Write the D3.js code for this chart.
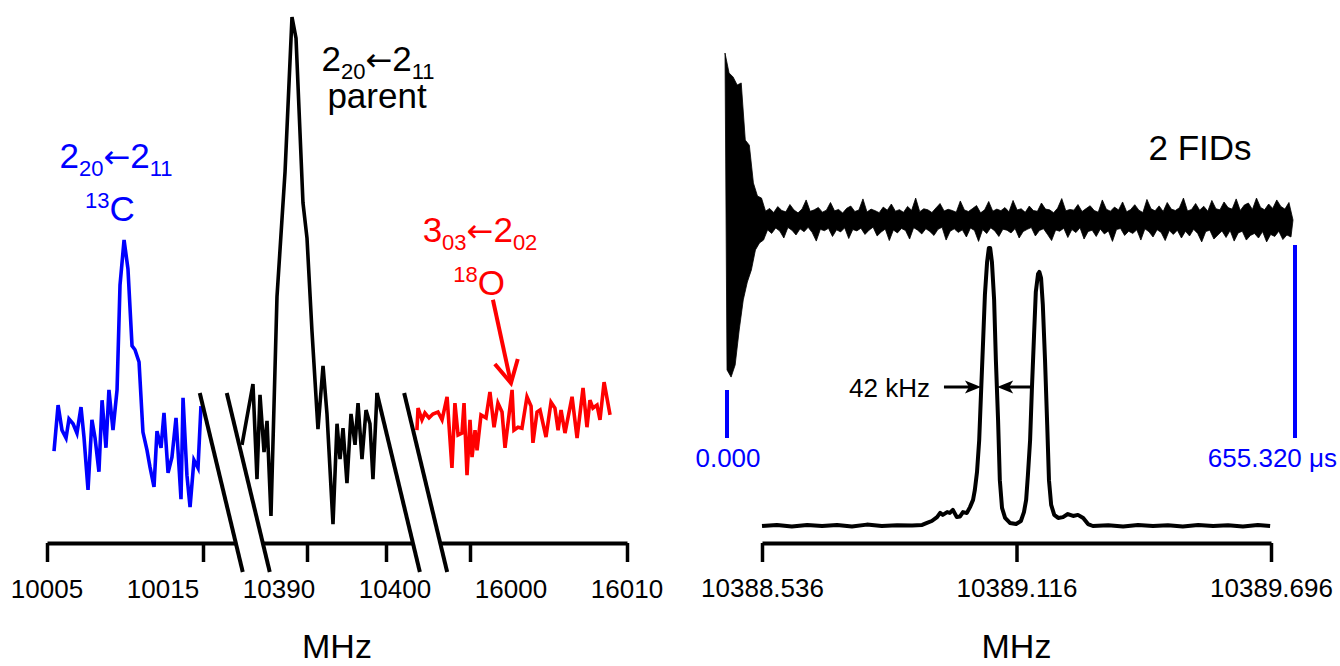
<!DOCTYPE html>
<html>
<head>
<meta charset="utf-8">
<script src="https://cdn.jsdelivr.net/npm/d3@7"></script>
<style>
  body { margin: 0; background: #fff; }
  svg text { font-family: "Liberation Sans", Arial, sans-serif; }
</style>
</head>
<body>
<div id="chart"></div>
<script>
// ---- left panel: three pieces of a broken frequency axis (MHz) ----
let leftSegments = [[10005, 10015], [10390, 10400], [16000, 16010]];
let leftTickValues = [10005, 10015, 10390, 10400, 16000, 16010];
let leftTickLabels = ['10005', '10015', '10390', '10400', '16000', '16010'];
// where the break marks cut the axis: [end of left piece, start of right piece]
let leftBreaks = [[10017.1, 10384.4], [10403.4, 15998.1]];

// 13C isotopologue, 2(20)<-2(11)
let c13Freq = [10005.45, 10005.71, 10005.96, 10006.22, 10006.41, 10006.67, 10006.92, 10007.18, 10007.37, 10007.63,
    10007.88, 10008.08, 10008.33, 10008.53, 10008.78, 10008.97, 10009.23, 10009.49, 10009.68, 10009.94,
    10010.19, 10010.45, 10010.64, 10010.90, 10011.15, 10011.41, 10011.60, 10011.86, 10012.05, 10012.31,
    10012.50, 10012.76, 10013.01, 10013.27, 10013.59, 10013.72, 10013.97, 10014.17, 10014.42, 10014.68, 10014.87];
let c13Int = [12.0, 21.4, 16.3, 14.7, 18.6, 17.6, 15.7, 21.0, 14.9, 4.1,
    18.4, 14.7, 7.8, 22.4, 12.7, 24.5, 16.3, 24.5, 45.9, 55.1,
    49.2, 33.5, 32.7, 30.2, 15.9, 12.2, 8.8, 4.7, 16.1, 12.7,
    19.8, 7.6, 10.8, 18.8, 2.2, 22.9, 7.1, 0.6, 10.2, 8.6, 21.2];

// parent, 2(20)<-2(11)
let parentFreq = [10381.77, 10383.16, 10383.67, 10384.05, 10384.56, 10384.94, 10385.44, 10386.20, 10387.22, 10388.10,
    10388.61, 10389.49, 10390.00, 10390.63, 10391.39, 10392.03, 10392.53, 10393.29, 10393.80, 10394.18,
    10394.56, 10395.06, 10395.57, 10396.08, 10396.46, 10396.96, 10397.47, 10397.97, 10398.35, 10398.86];
let parentInt = [13.3, 25.7, 6.3, 23.5, 11.8, 18.2, -1.2, 43.5, 69.0, 100.6,
    96.3, 62.7, 55.5, 36.5, 16.5, 29.4, 19.6, -2.9, 17.6, 10.4,
    16.7, 5.5, 19.6, 13.3, 21.8, 10.4, 20.4, 17.6, 6.3, 23.9];

// 18O isotopologue, 3(03)<-2(02)
let o18Freq = [15996.62, 15996.69, 15996.94, 15997.13, 15997.39, 15997.64, 15997.96, 15998.22, 15998.54, 15998.85,
    15999.04, 15999.24, 15999.49, 15999.62, 15999.81, 16000.00, 16000.13, 16000.32, 16000.45, 16000.70,
    16001.02, 16001.27, 16001.53, 16001.78, 16002.04, 16002.23, 16002.68, 16002.80, 16003.06, 16003.31,
    16003.63, 16003.89, 16004.01, 16004.27, 16004.46, 16004.84, 16005.16, 16005.41, 16005.61, 16005.80,
    16006.05, 16006.50, 16006.82, 16007.20, 16007.45, 16007.64, 16007.83, 16008.09, 16008.28, 16008.54, 16008.92];
let o18Int = [16.3, 20.8, 18.4, 19.8, 18.8, 19.6, 20.0, 18.4, 23.1, 8.6,
    21.8, 15.3, 15.7, 21.8, 7.1, 18.4, 10.8, 16.3, 12.2, 19.4,
    18.8, 24.1, 16.9, 21.8, 20.0, 12.7, 24.5, 16.3, 16.9, 16.7,
    23.1, 21.2, 13.7, 20.0, 20.4, 14.9, 22.0, 20.8, 16.3, 20.4,
    15.7, 23.1, 14.7, 24.9, 16.9, 22.4, 20.8, 21.4, 18.4, 26.1, 19.4];
// arrow pointing at the 18O line: [freq, intensity] tail and tip
let o18Arrow = [[16001.46, 42.9], [16002.61, 25.9]];

// ---- right panel: high resolution spectrum of the parent line ----
let rightTicks = [10388.536, 10389.116, 10389.696];
let specFreq = [10388.536, 10388.570, 10388.604, 10388.639, 10388.673, 10388.707, 10388.741, 10388.775, 10388.809, 10388.844,
    10388.878, 10388.901, 10388.912, 10388.923, 10388.935, 10388.942, 10388.948, 10388.958, 10388.964, 10388.971,
    10388.980, 10388.987, 10388.994, 10389.003, 10389.010, 10389.017, 10389.021, 10389.026, 10389.031, 10389.035,
    10389.040, 10389.044, 10389.049, 10389.053, 10389.056, 10389.060, 10389.065, 10389.069, 10389.074, 10389.078,
    10389.083, 10389.090, 10389.101, 10389.115, 10389.126, 10389.133, 10389.138, 10389.142, 10389.147, 10389.151,
    10389.156, 10389.160, 10389.165, 10389.168, 10389.172, 10389.176, 10389.181, 10389.186, 10389.190, 10389.195,
    10389.202, 10389.211, 10389.222, 10389.233, 10389.245, 10389.256, 10389.268, 10389.279, 10389.290, 10389.325,
    10389.359, 10389.393, 10389.427, 10389.461, 10389.495, 10389.530, 10389.564, 10389.598, 10389.632, 10389.666, 10389.694];
let specInt = [0, 0.4, -0.2, 0.4, 0, 0.4, -0.2, 0.5, 0, 0.3,
    0.2, 0.4, 1.1, 1.8, 3.2, 4.7, 4.0, 5.0, 4.7, 5.8,
    3.2, 3.4, 5.0, 4.7, 6.8, 9.4, 12.9, 19.4, 30.9, 47.1,
    66.9, 83.1, 95.0, 100, 100, 95.0, 81.3, 59.7, 38.1, 16.5,
    6.5, 2.9, 1.1, 0.7, 1.8, 5.0, 9.4, 18.3, 30.9, 48.9,
    68.7, 84.2, 90.6, 91.4, 89.2, 79.5, 59.7, 36.3, 16.5, 7.6,
    4.0, 2.9, 3.2, 4.3, 3.6, 4.0, 2.9, 0.7, 0, 0.3,
    -0.2, 0.4, 0, 0.3, -0.2, 0.4, 0, 0.3, -0.2, 0.4, 0];
let fwhmEdges = [10389.035, 10389.072];   // half height of the strong line
let fwhmLabel = '42 kHz';

// free induction decay: positive and negative swings (arb. units), 655.32 us long
let fidLength = 655.32;
let fidUpper = [98.2, 86.5, 84.1, 79.4, 80.6, 47, 44, 21.8, 14.1, 12.9,
    5.2, 6.8, 4.4, 7.9, 5.6, 4.8, 9.1, 5.9, 4.2, 6.5, 11.8, 5.1, 6.0, 7.4, 4.6, 5.8, 10.3, 5.4, 6.2, 4.1,
    6.9, 8.2, 5.0, 5.9, 12.4, 4.7, 6.4, 5.5, 4.3, 7.6, 5.8, 9.4, 5.2, 6.1, 4.5, 8.0, 5.7, 12.9, 4.9, 6.6,
    6.0, 4.4, 7.1, 9.7, 5.3, 6.3, 5.6, 4.6, 11.2, 5.9, 5.0, 6.7, 8.5, 4.2, 6.0, 10.9, 5.2, 6.4, 5.5, 7.3,
    4.8, 11.5, 5.9, 6.6, 4.5, 8.2, 5.6, 5.1, 10.0, 6.4, 6.0, 4.3, 7.0, 12.6, 5.4, 6.2, 5.8, 9.1, 5.0, 6.7,
    8.4, 5.6, 4.6, 11.8, 6.3, 5.2, 7.6, 5.9, 10.6, 4.8, 6.2, 9.0, 5.8, 4.4, 12.1, 6.6, 5.4, 8.3, 5.0, 10.3,
    6.4, 5.6, 7.2, 12.9, 5.3, 6.2, 9.7, 5.8, 8.1, 5.2, 11.5, 6.6, 6.0, 10.6, 7.3, 6.4, 12.4, 5.6, 8.8, 10.0,
    6.2, 12.9, 7.4, 6.0, 9.4, 6.8, 11.8, 8.0, 6.4, 10.3, 0];
let fidLower = [-88.2, -92.4, -85.3, -64.7, -47, -36.5, -29.4, -17.6, -13.5, -11.8,
    -5.8, -7.9, -4.7, -6.5, -10.6, -4.4, -6.0, -8.8, -5.2, -6.9, -4.3, -7.4, -12.4, -5.5, -6.3, -4.9, -9.7, -5.8, -7.0, -4.6,
    -10.9, -5.6, -6.4, -4.8, -8.5, -6.0, -4.2, -9.4, -7.1, -5.3, -12.1, -5.9, -7.6, -5.0, -6.2, -11.2, -4.5, -6.0, -8.2, -5.1,
    -6.8, -9.1, -5.5, -4.3, -11.8, -6.6, -5.2, -7.3, -5.8, -10.0, -4.7, -6.2, -12.6, -5.6, -8.0, -4.6, -6.4, -9.7, -5.4, -6.0,
    -7.6, -5.0, -10.6, -6.8, -5.5, -4.4, -9.4, -6.2, -5.1, -8.5, -12.1, -5.9, -6.6, -4.8, -10.3, -5.6, -7.4, -4.5, -11.2, -6.8,
    -6.0, -9.7, -5.3, -8.2, -6.4, -12.6, -5.6, -5.0, -9.1, -6.6, -7.9, -5.8, -11.8, -5.2, -6.9, -10.0, -5.7, -7.3, -12.1, -6.2,
    -8.5, -6.0, -10.6, -6.6, -9.4, -5.5, -7.9, -12.9, -6.8, -6.0, -11.2, -8.8, -6.4, -10.3, -6.2, -12.4, -7.6, -6.6, -11.8, -9.1,
    -7.9, -10.6, -6.8, -12.9, -8.5, -9.7, -6.6, -11.5, -8.8, -10.0, 0];
let fidStep = fidLength / (fidUpper.length - 1);

// ---------------------------------------------------------------
let width = 1340, height = 666;
let axisY = 543;
let blue = '#0000ff', red = '#ff0000';

let svg = d3.select('#chart').append('svg')
    .attr('width', width)
    .attr('height', height);

// rich label: parts = [text, size, dy, font]
function richText(x, y, parts, color) {
    let t = svg.append('text')
        .attr('x', x).attr('y', y)
        .attr('text-anchor', 'middle')
        .attr('fill', color);
    parts.forEach(p => {
        let s = t.append('tspan').attr('font-size', p[1]).attr('dy', p[2]).text(p[0]);
        if (p[3]) s.attr('font-family', p[3]);
    });
    return t;
}
function transition(a, b, c, d, color, x, y) {
    // big / sub / arrow / big / sub
    return richText(x, y, [
        [a, 35, 0], [b, 22, 8], ['\u2190', 32, -8, '"DejaVu Sans"'], [c, 35, 0], [d, 22, 8]
    ], color);
}

// ---- left panel ----
let segRanges = [[47, 203], [307, 386], [470, 627]];
let segScales = leftSegments.map((dom, i) => d3.scaleLinear().domain(dom).range(segRanges[i]));

function segIndex(f) {
    if (f < 10200) return 0;
    if (f < 13000) return 1;
    return 2;
}
function xLeft(f) {
    return segScales[segIndex(f)](f);
}
let yLeft = d3.scaleLinear().domain([0, 100]).range([510, 20]);

let leftSeries = [
    {freq: c13Freq, val: c13Int, color: blue},
    {freq: parentFreq, val: parentInt, color: 'black'},
    {freq: o18Freq, val: o18Int, color: red}
];

let lineLeft = d3.line()
    .x(d => xLeft(d[0]))
    .y(d => yLeft(d[1]));

leftSeries.forEach(s => {
    svg.append('path')
        .datum(d3.zip(s.freq, s.val))
        .attr('d', lineLeft)
        .attr('fill', 'none')
        .attr('stroke', s.color)
        .attr('stroke-width', 3.6);
});

// axis pieces
leftSegments.forEach((dom, i) => {
    let lo = i === 0 ? dom[0] : leftBreaks[i - 1][1];
    let hi = i === leftSegments.length - 1 ? dom[1] : leftBreaks[i][0];
    let s = segScales[i].copy().domain([lo, hi]).range([segScales[i](lo), segScales[i](hi)]);
    let ticks = leftTickValues.filter(v => v >= lo && v <= hi);
    let g = svg.append('g')
        .attr('transform', `translate(0,${axisY})`)
        .call(d3.axisBottom(s).tickValues(ticks).tickSize(19).tickSizeOuter(0).tickFormat(''));
    g.select('.domain').attr('stroke-width', 4);
    g.selectAll('.tick line').attr('stroke-width', 3.5);
});

// break marks
leftBreaks.forEach((pair, i) => {
    pair.forEach((f, j) => {
        let x = segScales[i + j](f);
        svg.append('line')
            .attr('x1', x - 36).attr('y1', axisY - 150)
            .attr('x2', x + 7).attr('y2', axisY + 29)
            .attr('stroke', 'black')
            .attr('stroke-width', 4);
    });
});

// tick labels are spread evenly under the broken axis
let labelX = d3.scalePoint()
    .domain(leftTickLabels)
    .range([segScales[0](leftTickValues[0]), segScales[2](leftTickValues[5])]);

svg.selectAll('.left-tick-label')
    .data(leftTickLabels)
    .join('text')
    .attr('class', 'left-tick-label')
    .attr('x', d => labelX(d))
    .attr('y', 598)
    .attr('text-anchor', 'middle')
    .attr('font-size', 26)
    .text(d => d);

svg.append('text')
    .attr('x', (segRanges[0][0] + segRanges[2][1]) / 2)
    .attr('y', 658)
    .attr('text-anchor', 'middle')
    .attr('font-size', 34)
    .text('MHz');

// line labels
transition('2', '20', '2', '11', 'black', 378, 71);
richText(377, 108, [['parent', 35, 0]], 'black');
transition('2', '20', '2', '11', blue, 116, 168);
richText(110, 221, [['13', 22, -13], ['C', 35, 13]], blue);
transition('3', '03', '2', '02', red, 480, 242);
richText(479, 295, [['18', 22, -13], ['O', 35, 13]], red);

// red arrow to the 18O line
let aTail = [xLeft(o18Arrow[0][0]), yLeft(o18Arrow[0][1])];
let aTip = [xLeft(o18Arrow[1][0]), yLeft(o18Arrow[1][1])];
let ang = Math.atan2(aTail[1] - aTip[1], aTail[0] - aTip[0]);
let wing = 25, spread = 28 * Math.PI / 180;
svg.append('line')
    .attr('x1', aTail[0]).attr('y1', aTail[1])
    .attr('x2', aTip[0]).attr('y2', aTip[1])
    .attr('stroke', red).attr('stroke-width', 4);
svg.append('path')
    .attr('d', d3.line()([
        [aTip[0] + wing * Math.cos(ang - spread), aTip[1] + wing * Math.sin(ang - spread)],
        aTip,
        [aTip[0] + wing * Math.cos(ang + spread), aTip[1] + wing * Math.sin(ang + spread)]
    ]))
    .attr('fill', 'none')
    .attr('stroke', red)
    .attr('stroke-width', 4);

// ---- right panel ----
let xRight = d3.scaleLinear()
    .domain([rightTicks[0], rightTicks[rightTicks.length - 1]])
    .range([762, 1271]);
let yRight = d3.scaleLinear().domain([0, 100]).range([526, 248]);

let gR = svg.append('g')
    .attr('transform', `translate(0,${axisY})`)
    .call(d3.axisBottom(xRight)
        .tickValues(rightTicks)
        .tickSize(19)
        .tickSizeOuter(0)
        .tickPadding(17)
        .tickFormat(d3.format('.3f')));
gR.select('.domain').attr('stroke-width', 4);
gR.selectAll('.tick line').attr('stroke-width', 3.5);
gR.selectAll('.tick text')
    .attr('font-size', 26)
    .attr('font-family', '"Liberation Sans", Arial, sans-serif')
    .attr('fill', 'black');

svg.append('text')
    .attr('x', (xRight.range()[0] + xRight.range()[1]) / 2)
    .attr('y', 658)
    .attr('text-anchor', 'middle')
    .attr('font-size', 34)
    .text('MHz');

svg.append('path')
    .datum(d3.zip(specFreq, specInt))
    .attr('d', d3.line().x(d => xRight(d[0])).y(d => yRight(d[1])))
    .attr('fill', 'none')
    .attr('stroke', 'black')
    .attr('stroke-width', 4)
    .attr('stroke-linejoin', 'round');

// FID: band between positive and negative swings, the two edges offset by half a sample
let fidX = d3.scaleLinear().domain([0, fidLength]).range([725, 1293]);
let fidY = d3.scaleLinear().domain([-100, 100]).range([390, 50]);

svg.append('path')
    .datum(d3.range(fidUpper.length))
    .attr('d', d3.area()
        .x1(i => fidX(i * fidStep))
        .x0(i => fidX(Math.min(i + 0.5, fidUpper.length - 1) * fidStep))
        .y1(i => fidY(fidUpper[i]))
        .y0(i => fidY(fidLower[i])))
    .attr('fill', 'black')
    .attr('stroke', 'black')
    .attr('stroke-width', 0.8)
    .attr('stroke-linejoin', 'miter');

// time markers
let marks = [
    {t: 0, top: 390, label: '0.000', anchor: 'middle', dx: 3},
    {t: fidLength, top: 245, label: '655.320 \u03bcs', anchor: 'end', dx: 44}
];
marks.forEach(m => {
    svg.append('line')
        .attr('x1', fidX(m.t) + 2).attr('x2', fidX(m.t) + 2)
        .attr('y1', m.top).attr('y2', 438)
        .attr('stroke', blue).attr('stroke-width', 4);
    svg.append('text')
        .attr('x', fidX(m.t) + m.dx)
        .attr('y', 467)
        .attr('text-anchor', m.anchor)
        .attr('font-size', 26)
        .attr('fill', blue)
        .text(m.label);
});

svg.append('text')
    .attr('x', 1200).attr('y', 160)
    .attr('text-anchor', 'middle')
    .attr('font-size', 35)
    .text('2 FIDs');

// half width arrows
let hy = yRight(50);
function arrowHead(x, y, dir) {
    svg.append('path')
        .attr('d', d3.line()([[x, y], [x - 16 * dir, y - 6.5], [x - 12 * dir, y], [x - 16 * dir, y + 6.5]]) + 'Z')
        .attr('fill', 'black');
}
let leftTip = xRight(fwhmEdges[0]), rightTip = xRight(fwhmEdges[1]);
svg.append('line').attr('x1', leftTip - 37).attr('x2', leftTip - 10).attr('y1', hy).attr('y2', hy)
    .attr('stroke', 'black').attr('stroke-width', 3);
arrowHead(leftTip, hy, 1);
svg.append('line').attr('x1', rightTip + 33).attr('x2', rightTip + 10).attr('y1', hy).attr('y2', hy)
    .attr('stroke', 'black').attr('stroke-width', 3);
arrowHead(rightTip, hy, -1);

svg.append('text')
    .attr('x', leftTip - 51).attr('y', hy + 10)
    .attr('text-anchor', 'end')
    .attr('font-size', 26)
    .text(fwhmLabel);
</script>
</body>
</html>
